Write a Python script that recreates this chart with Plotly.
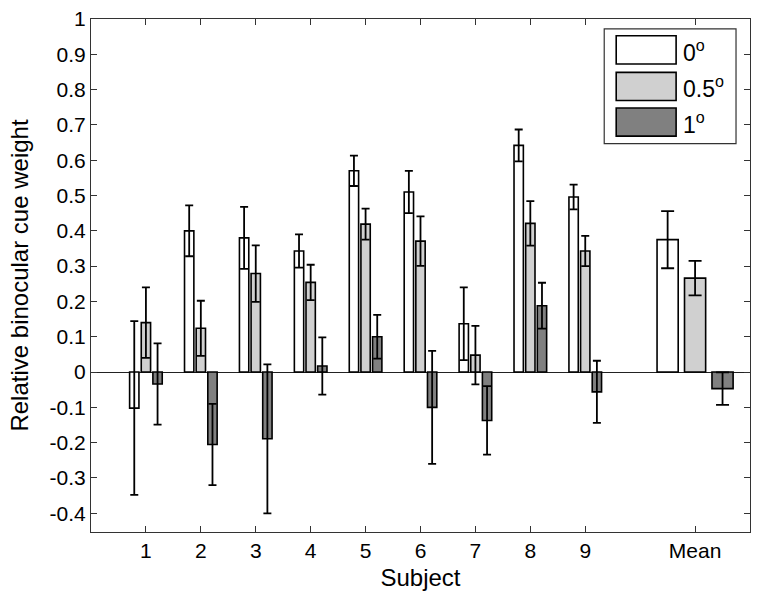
import plotly.graph_objects as go

# ---- data ----
subject_labels = ["1", "2", "3", "4", "5", "6", "7", "8", "9"]
mean_label = "Mean"
condition_names = ["0<sup>o</sup>", "0.5<sup>o</sup>", "1<sup>o</sup>"]

w_0deg = [-0.102, 0.400, 0.380, 0.343, 0.570, 0.510, 0.137, 0.642, 0.496]
e_0deg = [0.246, 0.072, 0.088, 0.047, 0.043, 0.060, 0.103, 0.045, 0.035]
w_05deg = [0.140, 0.124, 0.279, 0.254, 0.419, 0.371, 0.048, 0.421, 0.343]
e_05deg = [0.100, 0.078, 0.080, 0.050, 0.044, 0.070, 0.083, 0.063, 0.043]
w_1deg = [-0.034, -0.205, -0.189, 0.017, 0.100, -0.100, -0.137, 0.188, -0.056]
e_1deg = [0.115, 0.115, 0.211, 0.081, 0.062, 0.160, 0.097, 0.065, 0.088]

mean_w = [0.375, 0.266, -0.047]
mean_e = [0.081, 0.049, 0.046]

y_tick_vals = [-0.4, -0.3, -0.2, -0.1, 0, 0.1, 0.2, 0.3, 0.4, 0.5, 0.6, 0.7, 0.8, 0.9, 1]
y_tick_text = ["-0.4", "-0.3", "-0.2", "-0.1", "0", "0.1", "0.2", "0.3", "0.4",
               "0.5", "0.6", "0.7", "0.8", "0.9", "1"]

# ---- layout constants ----
W, H = 758, 600
L, R, T, B = 91, 7, 13, 68
PW, PH = W - L - R, H - T - B
FONT = "Liberation Sans, Arial, Helvetica, sans-serif"

subj_x = list(range(1, len(subject_labels) + 1))
mean_x = len(subject_labels) + 2

fills = ["#ffffff", "#d0d0d0", "#808080"]
series = [(w_0deg, e_0deg), (w_05deg, e_05deg), (w_1deg, e_1deg)]
sub_step, sub_w = 0.212, 0.17
m_step, m_w = 0.5, 0.385

fig = go.Figure()
for i, (vals, errs) in enumerate(series):
    shift = i - 1
    fig.add_trace(go.Bar(
        x=subj_x, y=vals, width=sub_w, offset=shift * sub_step - sub_w / 2,
        marker=dict(color=fills[i], line=dict(color="black", width=1.6)),
        error_y=dict(type="data", array=errs, color="black", thickness=1.8, width=4),
        showlegend=False, name=condition_names[i]))
    fig.add_trace(go.Bar(
        x=[mean_x], y=[mean_w[i]], width=m_w, offset=shift * m_step - m_w / 2,
        marker=dict(color=fills[i], line=dict(color="black", width=1.6)),
        error_y=dict(type="data", array=[mean_e[i]], color="black", thickness=1.8, width=6.5),
        showlegend=False, name=condition_names[i]))

# ---- custom legend (big swatches); positions given in pixels ----
def px_x(p):
    return (p - L) / PW

def px_y(p):
    return (H - B - p) / PH

shapes = [dict(type="rect", xref="paper", yref="paper",
               x0=px_x(605), x1=px_x(737), y0=px_y(139), y1=px_y(23),
               line=dict(color="#333333", width=1.2), fillcolor="white", layer="above")]
annotations = []
row_tops = [30, 67, 103]
for i, top in enumerate(row_tops):
    shapes.append(dict(type="rect", xref="paper", yref="paper",
                       x0=px_x(617), x1=px_x(677), y0=px_y(top + 28.5), y1=px_y(top),
                       line=dict(color="black", width=1.6), fillcolor=fills[i], layer="above"))
    annotations.append(dict(xref="paper", yref="paper", x=px_x(682), y=px_y(top + 15),
                            xanchor="left", yanchor="middle", showarrow=False,
                            text=condition_names[i], font=dict(size=23, color="black", family=FONT)))

fig.update_layout(
    width=W, height=H, margin=dict(l=L, r=R, t=T, b=B),
    barmode="overlay", plot_bgcolor="white", paper_bgcolor="white",
    font=dict(family=FONT, color="black"),
    shapes=shapes, annotations=annotations,
    xaxis=dict(range=[0, mean_x + 1], tickvals=subj_x + [mean_x],
               ticktext=subject_labels + [mean_label],
               ticks="inside", ticklen=6, tickwidth=1.2, tickcolor="#333333",
               showline=True, linecolor="#333333", linewidth=1.2, mirror="ticks",
               showgrid=False, zeroline=False, tickfont=dict(size=21),
               title=dict(text="Subject", font=dict(size=24), standoff=7)),
    yaxis=dict(range=[-0.453, 1.0], tickvals=y_tick_vals, ticktext=y_tick_text,
               ticks="inside", ticklen=6, tickwidth=1.2, tickcolor="#333333",
               showline=True, linecolor="#333333", linewidth=1.2, mirror="ticks",
               showgrid=False, zeroline=True, zerolinecolor="#222222", zerolinewidth=1,
               tickfont=dict(size=21), ticklabeloverflow="allow",
               title=dict(text="Relative binocular cue weight", font=dict(size=24), standoff=14)),
)

fig.write_html("out.html", config={"displayModeBar": False},
               post_script="document.body.style.margin='0';")
